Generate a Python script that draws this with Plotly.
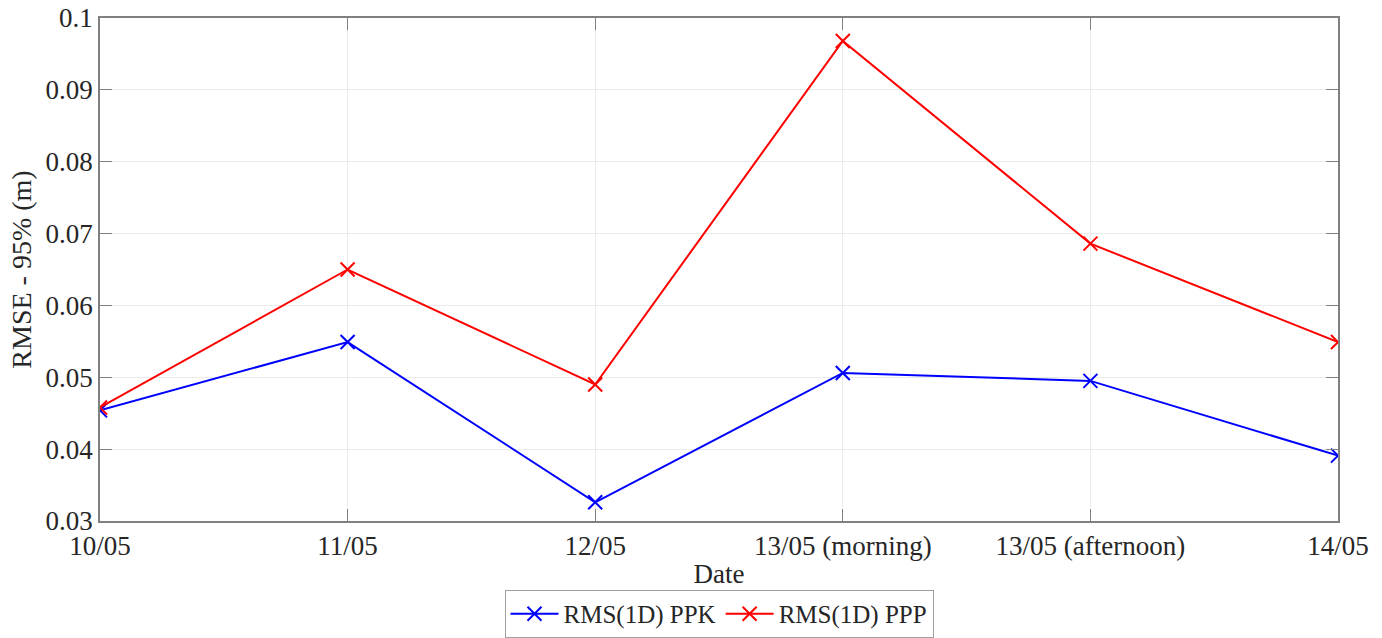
import plotly.graph_objects as go

dates = ["10/05", "11/05", "12/05", "13/05 (morning)", "13/05 (afternoon)", "14/05"]
rms_ppk = [0.0454, 0.0549, 0.0326, 0.0506, 0.0495, 0.0391]
rms_ppp = [0.0458, 0.0650, 0.0490, 0.0968, 0.0686, 0.0549]

font_family = "Liberation Serif"
text_color = "#262626"
axis_color = "#808080"

fig = go.Figure()
fig.add_trace(go.Scatter(
    x=dates, y=rms_ppk, mode="lines+markers", name="RMS(1D) PPK",
    line=dict(color="#0000ff", width=2),
    marker=dict(symbol="x-thin", size=14, line=dict(color="#0000ff", width=2)),
))
fig.add_trace(go.Scatter(
    x=dates, y=rms_ppp, mode="lines+markers", name="RMS(1D) PPP",
    line=dict(color="#ff0000", width=2),
    marker=dict(symbol="x-thin", size=14, line=dict(color="#ff0000", width=2)),
))

fig.update_layout(
    width=1382, height=638,
    margin=dict(l=100, r=44, t=18, b=117, autoexpand=False),
    paper_bgcolor="white", plot_bgcolor="white",
    font=dict(family=font_family, size=27, color=text_color),
    showlegend=True,
    legend=dict(
        orientation="h", x=0.5, xanchor="center", y=-0.2326, yanchor="bottom",
        bordercolor="#a0a0a0", borderwidth=1, bgcolor="white",
        font=dict(family=font_family, size=25, color=text_color),
        itemwidth=48, tracegroupgap=0,
    ),
)
fig.update_xaxes(
    type="category", range=[0, 5],
    showline=True, linecolor=axis_color, linewidth=1.5, mirror="ticks",
    ticks="inside", ticklen=12, tickcolor=axis_color, tickwidth=1,
    showgrid=True, gridcolor="#ebebeb", gridwidth=1,
    title=dict(text="Date", standoff=4, font=dict(family=font_family, size=27, color=text_color)),
    tickfont=dict(family=font_family, size=27, color=text_color),
    zeroline=False,
)
fig.update_yaxes(
    range=[0.03, 0.1], dtick=0.01, tick0=0.03,
    showline=True, linecolor=axis_color, linewidth=1.5, mirror="ticks",
    ticks="inside", ticklen=12, tickcolor=axis_color, tickwidth=1,
    showgrid=True, gridcolor="#ebebeb", gridwidth=1,
    title=dict(text="RMSE - 95% (m)", standoff=6, font=dict(family=font_family, size=28, color=text_color)),
    tickfont=dict(family=font_family, size=27, color=text_color),
    zeroline=False,
)

fig.write_html("out.html")
